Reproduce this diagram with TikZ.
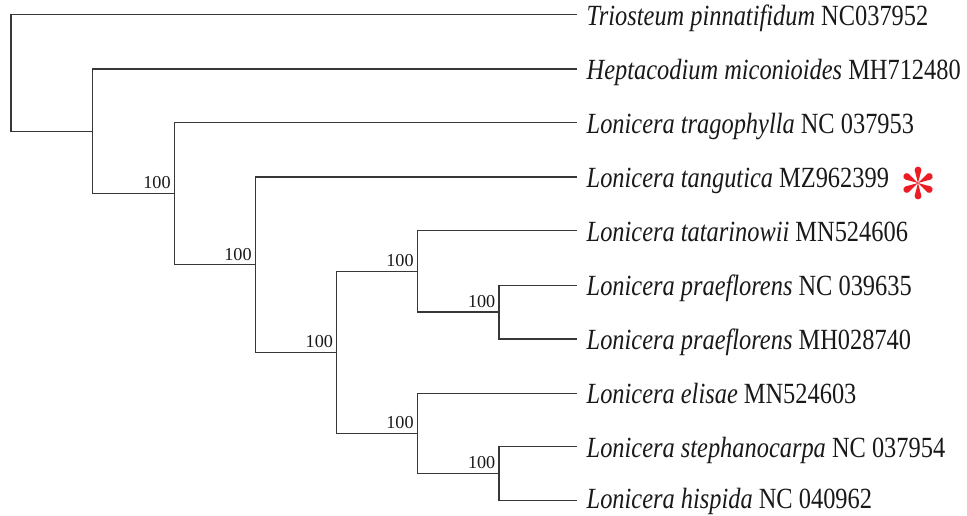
\documentclass[tikz,border=0pt]{standalone}
\usepackage{graphicx}
\usepackage{fontspec}
\setmainfont{Liberation Serif}
\definecolor{branchgray}{RGB}{55,55,55}
\definecolor{starred}{RGB}{236,28,36}
\newcommand{\tallname}[1]{\scalebox{1}[1.2]{#1}}
\begin{document}
\begin{tikzpicture}[x=1pt,y=-1pt,
  branch/.style={draw=branchgray, line width=1.4pt},
  taxon/.style={anchor=base west, inner sep=0pt, text=black!90,
    xshift=9.5pt, yshift=-10.5pt, font=\fontsize{24.4}{28}\selectfont},
  support/.style={anchor=base east, inner sep=0pt, text=black!90,
    xshift=-3.5pt, yshift=4.7pt, font=\fontsize{18.2}{20}\selectfont}]
\useasboundingbox (0,0) rectangle (967,516);

% leaf tips
\coordinate (t0) at (577,14.7);
\coordinate (t1) at (577,68.9);
\coordinate (t2) at (577,122.7);
\coordinate (t3) at (577,177.0);
\coordinate (t4) at (577,230.5);
\coordinate (t5) at (577,285.3);
\coordinate (t6) at (577,338.9);
\coordinate (t7) at (577,393.2);
\coordinate (t8) at (577,446.5);
\coordinate (t9) at (577,500.7);

% internal nodes
\coordinate (n9) at (499,473.6);
\coordinate (n8) at (417.3,433.4);
\coordinate (n7) at (499,312.1);
\coordinate (n6) at (417.3,271.3);
\coordinate (n5) at (336.7,352.4);
\coordinate (n4) at (255.3,264.7);
\coordinate (n3) at (174.3,193.7);
\coordinate (n2) at (92.7,131.3);
\coordinate (n1) at (11,73.0);

% branches
\draw[branch] (n1) |- (t0);
\draw[branch] (n1) |- (n2);
\draw[branch] (n2) |- (t1);
\draw[branch] (n2) |- (n3);
\draw[branch] (n3) |- (t2);
\draw[branch] (n3) |- (n4);
\draw[branch] (n4) |- (t3);
\draw[branch] (n4) |- (n5);
\draw[branch] (n5) |- (n6);
\draw[branch] (n5) |- (n8);
\draw[branch] (n6) |- (t4);
\draw[branch] (n6) |- (n7);
\draw[branch] (n7) |- (t5);
\draw[branch] (n7) |- (t6);
\draw[branch] (n8) |- (t7);
\draw[branch] (n8) |- (n9);
\draw[branch] (n9) |- (t8);
\draw[branch] (n9) |- (t9);

% bootstrap support
\node[support] (b3) at (n3) {100};
\node[support] (b4) at (n4) {100};
\node[support] (b5) at (n5) {100};
\node[support] (b6) at (n6) {100};
\node[support] (b7) at (n7) {100};
\node[support] (b8) at (n8) {100};
\node[support] (b9) at (n9) {100};

% taxa
\node[taxon] (l0) at (t0) {\tallname{\textit{Triosteum pinnatifidum} NC037952}};
\node[taxon] (l1) at (t1) {\tallname{\textit{Heptacodium miconioides} MH712480}};
\node[taxon] (l2) at (t2) {\tallname{\textit{Lonicera tragophylla} NC 037953}};
\node[taxon] (l3) at (t3) {\tallname{\textit{Lonicera tangutica} MZ962399}};
\node[taxon] (l4) at (t4) {\tallname{\textit{Lonicera tatarinowii} MN524606}};
\node[taxon] (l5) at (t5) {\tallname{\textit{Lonicera praeflorens} NC 039635}};
\node[taxon] (l6) at (t6) {\tallname{\textit{Lonicera praeflorens} MH028740}};
\node[taxon] (l7) at (t7) {\tallname{\textit{Lonicera elisae} MN524603}};
\node[taxon] (l8) at (t8) {\tallname{\textit{Lonicera stephanocarpa} NC 037954}};
\node[taxon, yshift=2.5pt] (l9) at (t9) {\tallname{\textit{Lonicera hispida} NC 040962}};

% red asterisk marking the new sequence
\begin{scope}[shift={(918,183)}]
  \foreach \a in {30,90,150,210,270,330}
    \fill[starred, rotate=\a] (0,0) -- (13,-3.4) arc[start angle=-90, end angle=90, radius=3.4] -- cycle;
\end{scope}
\end{tikzpicture}
\end{document}
